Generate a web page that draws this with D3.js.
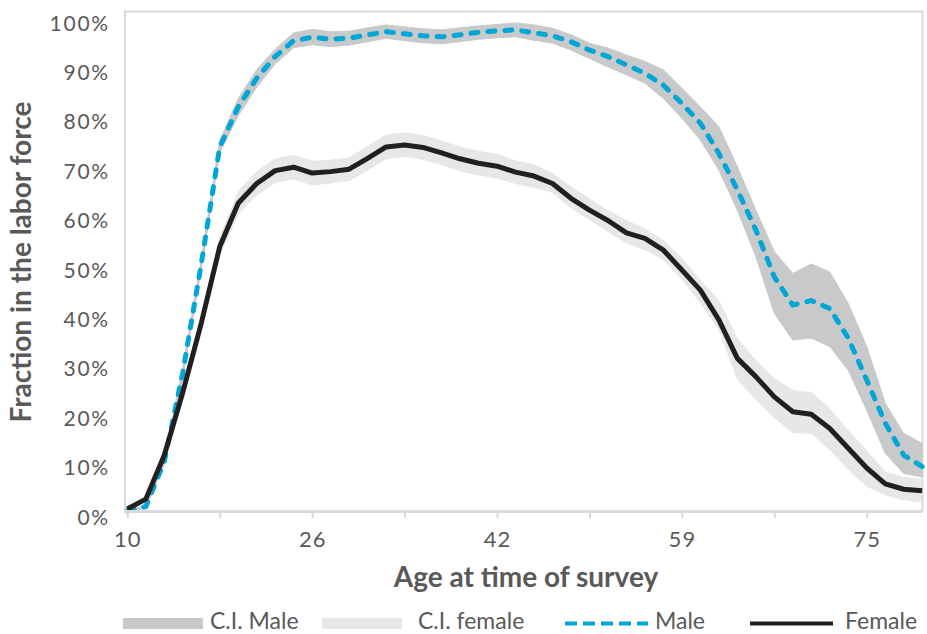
<!DOCTYPE html>
<html>
<head>
<meta charset="utf-8">
<script src="https://cdn.jsdelivr.net/npm/d3@7"></script>
<style>
  body { margin: 0; background: #fff; }
  svg { display: block; font-family: Lato, "Open Sans", sans-serif; }
</style>
</head>
<body>
<svg id="chart"></svg>
<script>
const ages = [10, 12, 13, 15, 16, 18, 20, 21, 23, 25, 26, 28, 29, 31, 33, 34, 36, 38, 39, 41, 42, 44,
              46, 47, 49, 51, 52, 54, 55, 57, 59, 60, 62, 64, 65, 67, 68, 70, 72, 73, 75, 77, 78, 80];

const male = [0.000, 0.009, 0.100, 0.280, 0.500, 0.737, 0.818, 0.876, 0.920, 0.952, 0.959, 0.955,
              0.957, 0.964, 0.970, 0.966, 0.962, 0.960, 0.964, 0.969, 0.972, 0.974, 0.968, 0.962,
              0.950, 0.933, 0.920, 0.903, 0.886, 0.862, 0.825, 0.785, 0.724, 0.650, 0.569, 0.474,
              0.417, 0.426, 0.410, 0.350, 0.265, 0.178, 0.113, 0.090];
const female = [0.004, 0.024, 0.113, 0.240, 0.380, 0.535, 0.623, 0.663, 0.689, 0.696, 0.684, 0.687,
                0.692, 0.714, 0.737, 0.741, 0.736, 0.725, 0.713, 0.704, 0.698, 0.686, 0.678, 0.663,
                0.633, 0.609, 0.588, 0.563, 0.552, 0.528, 0.488, 0.447, 0.387, 0.309, 0.272, 0.231,
                0.201, 0.196, 0.167, 0.127, 0.087, 0.055, 0.044, 0.041];

// confidence intervals
const maleHigh = [0.000, 0.012, 0.105, 0.290, 0.510, 0.750, 0.835, 0.893, 0.935, 0.968, 0.975, 0.970,
                  0.971, 0.978, 0.984, 0.980, 0.976, 0.974, 0.978, 0.982, 0.985, 0.988, 0.984, 0.977,
                  0.964, 0.947, 0.937, 0.923, 0.910, 0.893, 0.856, 0.818, 0.778, 0.697, 0.609, 0.525,
                  0.481, 0.500, 0.484, 0.420, 0.333, 0.218, 0.157, 0.137];
const maleLow = [0.000, 0.006, 0.095, 0.270, 0.490, 0.725, 0.800, 0.858, 0.905, 0.938, 0.944, 0.940,
                 0.943, 0.950, 0.957, 0.952, 0.948, 0.946, 0.950, 0.955, 0.958, 0.960, 0.953, 0.947,
                 0.933, 0.916, 0.899, 0.883, 0.866, 0.835, 0.795, 0.751, 0.690, 0.609, 0.515, 0.400,
                 0.346, 0.350, 0.333, 0.285, 0.204, 0.117, 0.076, 0.069];
const femaleHigh = [0.006, 0.027, 0.120, 0.250, 0.395, 0.555, 0.648, 0.688, 0.714, 0.721, 0.709, 0.711,
                    0.716, 0.739, 0.762, 0.766, 0.761, 0.750, 0.738, 0.729, 0.723, 0.710, 0.702, 0.684,
                    0.657, 0.633, 0.609, 0.589, 0.572, 0.549, 0.512, 0.468, 0.427, 0.350, 0.306, 0.269,
                    0.245, 0.241, 0.208, 0.164, 0.123, 0.080, 0.069, 0.066];
const femaleLow = [0.002, 0.021, 0.106, 0.230, 0.365, 0.515, 0.600, 0.638, 0.664, 0.671, 0.659, 0.663,
                   0.668, 0.689, 0.712, 0.716, 0.711, 0.700, 0.688, 0.679, 0.673, 0.662, 0.654, 0.644,
                   0.613, 0.589, 0.565, 0.542, 0.528, 0.508, 0.468, 0.420, 0.366, 0.265, 0.225, 0.188,
                   0.158, 0.156, 0.123, 0.083, 0.049, 0.032, 0.022, 0.017];

const yTicks = [0, 0.1, 0.2, 0.3, 0.4, 0.5, 0.6, 0.7, 0.8, 0.9, 1.0];
const labelAges = [10, 26, 42, 59, 75];

const width = 927;
const height = 634;
const textColor = '#595959';
const frameColor = '#d9d9d9';

const svg = d3.select('#chart')
    .attr('width', width)
    .attr('height', height);

const x = d3.scalePoint()
    .domain(ages)
    .range([127.3, 922.2]);

const y = d3.scaleLinear()
    .domain([0, 1])
    .range([511, 17]);

// plot frame
svg.append('rect')
    .attr('x', 125)
    .attr('y', 11.5)
    .attr('width', 922.5 - 125)
    .attr('height', 511 - 11.5)
    .attr('fill', 'none')
    .attr('stroke', frameColor)
    .attr('stroke-width', 2);

const band = (lo, hi) => d3.area()
    .x((_, i) => x(ages[i]))
    .y0((_, i) => y(lo[i]))
    .y1((_, i) => y(hi[i]));

svg.append('path')
    .datum(ages)
    .attr('d', band(maleLow, maleHigh))
    .attr('fill', '#c8c9cb')
    .attr('stroke', '#c8c9cb')
    .attr('stroke-width', 1);

svg.append('path')
    .datum(ages)
    .attr('d', band(femaleLow, femaleHigh))
    .attr('fill', '#e6e7e7');

const line = vals => d3.line()
    .x((_, i) => x(ages[i]))
    .y((_, i) => y(vals[i]));

svg.append('path')
    .datum(ages)
    .attr('d', line(male))
    .attr('fill', 'none')
    .attr('stroke', '#00a6d6')
    .attr('stroke-width', 5)
    .attr('stroke-linecap', 'round')
    .attr('stroke-dasharray', '7,10');

svg.append('path')
    .datum(ages)
    .attr('d', line(female))
    .attr('fill', 'none')
    .attr('stroke', '#231f20')
    .attr('stroke-width', 5)
    .attr('stroke-linejoin', 'round');

// bottom axis line
svg.append('line')
    .attr('x1', 124).attr('x2', 923)
    .attr('y1', 511.5).attr('y2', 511.5)
    .attr('stroke', frameColor)
    .attr('stroke-width', 3);

const xAxis = d3.axisBottom(x)
    .tickValues(ages.filter((_, i) => i % 5 === 0))
    .tickFormat(d => labelAges.includes(d) ? d : '')
    .tickSize(6)
    .tickPadding(13);

const gx = svg.append('g')
    .attr('transform', 'translate(0, 512)')
    .call(xAxis);
gx.select('.domain').remove();
gx.selectAll('line').attr('stroke', frameColor).attr('stroke-width', 2);
gx.selectAll('text')
    .attr('fill', textColor)
    .attr('font-family', 'Lato, sans-serif')
    .attr('font-size', 22)
    .attr('letter-spacing', 1);

const yAxis = d3.axisLeft(y)
    .tickValues(yTicks)
    .tickFormat(d3.format('.0%'))
    .tickSize(0)
    .tickPadding(15);

const gy = svg.append('g')
    .attr('transform', 'translate(125, 0)')
    .call(yAxis);
gy.select('.domain').remove();
gy.selectAll('text')
    .attr('fill', textColor)
    .attr('font-family', 'Lato, sans-serif')
    .attr('font-size', 21)
    .attr('letter-spacing', 1.8)
    .attr('dy', 13);

// axis titles
svg.append('text')
    .attr('transform', 'translate(31, 262) rotate(-90)')
    .attr('text-anchor', 'middle')
    .attr('fill', textColor)
    .attr('font-size', 28)
    .attr('font-weight', 700)
    .text('Fraction in the labor force');

svg.append('text')
    .attr('x', 526)
    .attr('y', 587)
    .attr('text-anchor', 'middle')
    .attr('fill', textColor)
    .attr('font-size', 28)
    .attr('font-weight', 700)
    .text('Age at time of survey');

// legend
const legend = [
    { name: 'C.I. Male', x: 123, tx: 210, kind: 'band', color: '#c8c9cb' },
    { name: 'C.I. female', x: 322, tx: 418, kind: 'band', color: '#e6e7e7' },
    { name: 'Male', x: 563, tx: 655, kind: 'dash', color: '#00a6d6' },
    { name: 'Female', x: 748, tx: 845, kind: 'line', color: '#231f20' }
];
const lg = svg.append('g');
legend.forEach(d => {
    if (d.kind === 'band') {
        lg.append('rect')
            .attr('x', d.x).attr('y', 618)
            .attr('width', 80).attr('height', 11)
            .attr('fill', d.color);
    } else {
        lg.append('line')
            .attr('x1', d.x + 2).attr('x2', d.x + 85)
            .attr('y1', 623.5).attr('y2', 623.5)
            .attr('stroke', d.color)
            .attr('stroke-width', 4)
            .attr('stroke-dasharray', d.kind === 'dash' ? '12,6' : null);
    }
    lg.append('text')
        .attr('x', d.tx).attr('y', 629)
        .attr('fill', textColor)
        .attr('font-size', 23)
        .text(d.name);
});
</script>
</body>
</html>
